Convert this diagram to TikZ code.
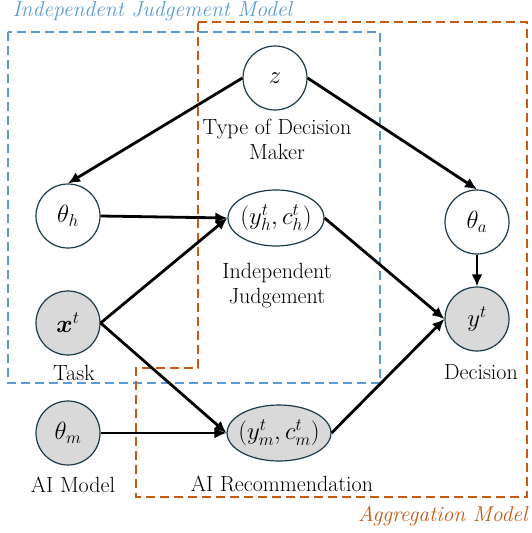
\documentclass[tikz,border=0pt]{standalone}
\usepackage{bm}
\usetikzlibrary{arrows.meta,shapes.geometric}

\definecolor{judgeblue}{HTML}{5B9BD5}
\definecolor{aggorange}{HTML}{C55A11}
\definecolor{nodeline}{HTML}{1B3A4B}
\definecolor{obsgray}{HTML}{D9D9D9}

\tikzset{
  var/.style={circle, draw=nodeline, line width=1.2pt, minimum size=64pt,
    inner sep=0pt, fill=white, font=\fontsize{24}{28}\selectfont},
  obs/.style={var, fill=obsgray},
  pair/.style={ellipse, draw=nodeline, line width=1.2pt, minimum width=96pt,
    minimum height=56pt, inner ysep=0pt, inner xsep=-4pt, fill=white,
    font=\fontsize{23}{26}\selectfont},
  obspair/.style={pair, fill=obsgray},
  edge/.style={line width=2.8pt, -{Latex[length=12pt,width=11pt]}},
  lbl/.style={align=center, font=\fontsize{22}{25}\selectfont},
  frame/.style={line width=1.9pt, dash pattern=on 9pt off 5pt},
}

\begin{document}
\begin{tikzpicture}[x=1pt,y=-1pt]
  \useasboundingbox (0,0) rectangle (532,533);

  % model frames
  \draw[frame, judgeblue] (8,32) rectangle (380,383);
  \draw[frame, aggorange] (198,22) -- (527,22) -- (527,497) -- (136,497)
    -- (136,368) -- (198,368) -- cycle;
  \node[lbl, anchor=west, text=judgeblue, font=\fontsize{21.6}{24}\selectfont\itshape]
    (judgetitle) at (9,11) {Independent Judgement Model};
  \node[lbl, anchor=east, text=aggorange, font=\fontsize{21.6}{24}\selectfont\itshape]
    (aggtitle) at (531,516) {Aggregation Model};

  % variables
  \node[var] (z) at (275,78) {$z$};
  \node[var] (thh) at (68,216) {$\theta_h$};
  \node[pair] (yh) at (276,218) {$(y_h^t,c_h^t)$};
  \node[var] (tha) at (477,222) {$\theta_a$};
  \node[obs] (x) at (68,323) {$\bm{x}^t$};
  \node[obs] (yt) at (477,319) {$y^t$};
  \node[obs] (thm) at (68,433) {$\theta_m$};
  \node[obspair] (ym) at (279,433) {$(y_m^t,c_m^t)$};

  % labels
  \node[lbl] (zlbl) at (277,139) {Type of Decision\\Maker};
  \node[lbl] (yhlbl) at (277,286) {Independent\\Judgement};
  \node[lbl] (xlbl) at (74,373) {Task};
  \node[lbl] (ytlbl) at (481,372) {Decision};
  \node[lbl] (thmlbl) at (73,485) {AI Model};
  \node[lbl] (ymlbl) at (282,484) {AI Recommendation};

  % edges
  \draw[edge] (z.west) -- (thh.north);
  \draw[edge] (z.east) -- (tha.north);
  \draw[edge] (thh.east) -- (yh.west);
  \draw[edge] (x.east) -- (yh.west);
  \draw[edge] (x.east) -- (ym.west);
  \draw[edge] (thm.east) -- (ym.west);
  \draw[edge] (yh.east) -- (yt.west);
  \draw[edge] (ym.east) -- (yt.west);
  \draw[edge] (tha.south) -- (yt.north);
\end{tikzpicture}
\end{document}
